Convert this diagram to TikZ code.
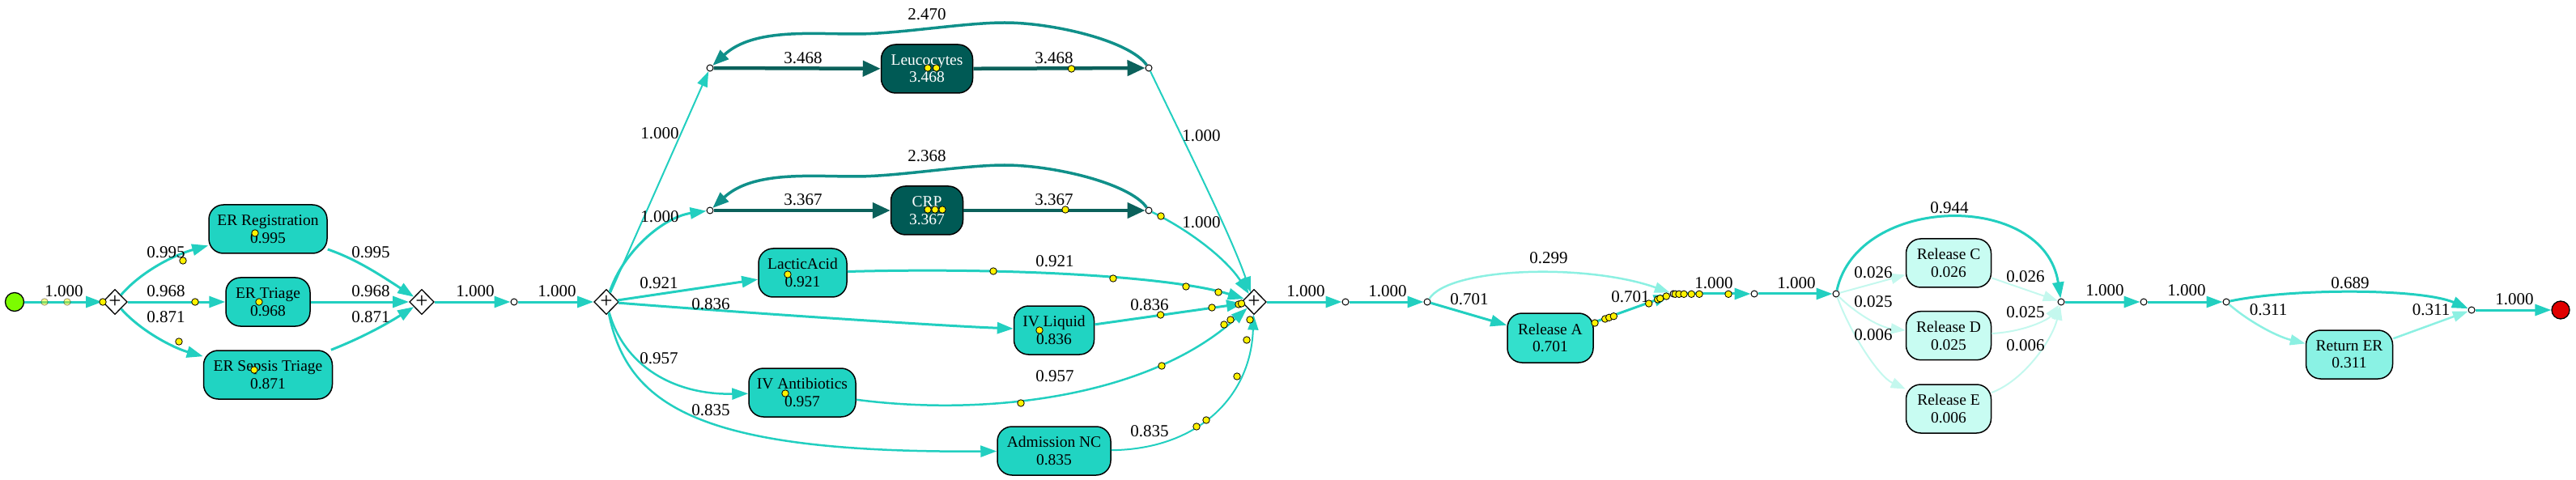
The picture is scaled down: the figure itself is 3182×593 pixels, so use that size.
\documentclass[tikz,border=0pt]{standalone}
\usepackage{fontspec}
\setmainfont{Liberation Serif}
\usetikzlibrary{shapes.geometric,arrows.meta}
\definecolor{cmain}{HTML}{22CFC0}
\definecolor{fmain}{HTML}{20D4C2}
\definecolor{fA}{HTML}{33E0CC}
\definecolor{fret}{HTML}{8AF2E4}
\definecolor{fpale}{HTML}{C8FCF2}
\definecolor{fdark}{HTML}{005A55}
\definecolor{cdark}{HTML}{0B615B}
\definecolor{cloop}{HTML}{10908A}
\definecolor{clight}{HTML}{8CF0E2}
\definecolor{cpale}{HTML}{C4F8EE}
\definecolor{fstart}{HTML}{7CFC00}
\definecolor{fend}{HTML}{E00000}
\newcommand\nodefnt{\fontsize{19.5}{21.5}\selectfont}
\newcommand\lblfnt{\fontsize{21}{24}\selectfont}
\begin{document}
\begin{tikzpicture}[x=1pt,y=-1pt,
  act/.style={rectangle,rounded corners=18pt,draw=black,line width=1.5pt,minimum height=60pt,align=center,font=\nodefnt,inner sep=2pt,fill=fmain},
  gw/.style={diamond,draw=black,fill=white,line width=1.3pt,minimum width=27pt,minimum height=31pt,inner sep=0pt,font=\fontsize{27}{27}\selectfont},
  pt/.style={circle,draw=black,fill=white,line width=1pt,minimum size=8pt,inner sep=0pt},
  tok/.style={circle,draw=black,fill=yellow,line width=0.8pt,minimum size=8.5pt,inner sep=0pt},
  ftok/.style={tok,draw opacity=0.4,fill opacity=0.45},
  lbl/.style={font=\lblfnt,inner sep=0pt},
  e/.style={draw=cmain,line width=3pt,-{Triangle[length=20pt,width=14pt]}},
  ethin/.style={draw=cmain,line width=2pt,-{Triangle[length=19pt,width=13pt]}},
  edark/.style={draw=cdark,line width=4.5pt,-{Triangle[length=22pt,width=19pt]}},
  eloop/.style={draw=cloop,line width=3.5pt,-{Triangle[length=20pt,width=15pt]}},
  elight/.style={draw=clight,line width=2.5pt,-{Triangle[length=19pt,width=13pt]}},
  epale/.style={draw=cpale,line width=2pt,-{Triangle[length=18pt,width=13pt]}}
]
\useasboundingbox (0,0) rectangle (3182,593);
% ---- nodes
\node[circle,draw=black,line width=1.3pt,fill=fstart,minimum size=23pt,inner sep=0pt] (start) at (18,373) {};
\node[gw] (d1) at (142,373) {+};
\node[act,minimum width=146pt] (ereg) at (331,283) {ER Registration\\0.995};
\node[act,minimum width=104pt] (etri) at (331,373) {ER Triage\\0.968};
\node[act,minimum width=159pt] (esep) at (331,463) {ER Sepsis Triage\\0.871};
\node[gw] (d2) at (521,373) {+};
\node[pt] (p1) at (635,373) {};
\node[gw] (d3) at (749,373) {+};
\node[pt] (pl1) at (877,84) {};
\node[pt] (pl2) at (1419,84) {};
\node[pt] (pc1) at (877,260) {};
\node[pt] (pc2) at (1419,260) {};
\node[act,fill=fdark,text=white,minimum width=113pt] (leu) at (1145,85) {Leucocytes\\3.468};
\node[act,fill=fdark,text=white,minimum width=89pt] (crp) at (1145,260) {CRP\\3.367};
\node[act,minimum width=109pt] (lac) at (991.5,337) {LacticAcid\\0.921};
\node[act,minimum width=99pt] (ivl) at (1302,408) {IV Liquid\\0.836};
\node[act,minimum width=132pt] (iva) at (991,485) {IV Antibiotics\\0.957};
\node[act,minimum width=140pt] (adm) at (1302,557) {Admission NC\\0.835};
\node[gw] (d4) at (1549,373) {+};
\node[pt] (p2) at (1662,373) {};
\node[pt] (p3) at (1763,373) {};
\node[act,fill=fA,minimum width=106pt,minimum height=61pt] (rela) at (1915,417.5) {Release A\\0.701};
\node[pt] (m1) at (2067,363) {};
\node[pt] (m2) at (2167,363) {};
\node[pt] (m3) at (2268,363) {};
\node[act,fill=fpale,minimum width=105pt] (relc) at (2407,325) {Release C\\0.026};
\node[act,fill=fpale,minimum width=105pt] (reld) at (2407,414.7) {Release D\\0.025};
\node[act,fill=fpale,minimum width=105pt] (rele) at (2407,505) {Release E\\0.006};
\node[pt] (j1) at (2546,373) {};
\node[pt] (p4) at (2648,373) {};
\node[pt] (p5) at (2750,373) {};
\node[act,fill=fret,minimum width=107pt] (ret) at (2902,438) {Return ER\\0.311};
\node[pt] (f1) at (3053,383) {};
\node[circle,draw=black,line width=1.3pt,fill=fend,minimum size=22pt,inner sep=0pt] (end) at (3163,383) {};
% ---- edges
\draw[e] (start) -- (d1);
\draw[e] (d1) .. controls (175,335) and (215,315) .. (ereg);
\draw[e] (d1) -- (etri);
\draw[e] (d1) .. controls (175,410) and (215,430) .. (esep);
\draw[e] (ereg) .. controls (440,320) and (470,340) .. (d2);
\draw[e] (etri) -- (d2);
\draw[e] (esep) .. controls (440,420) and (470,405) .. (d2);
\draw[e] (d2) -- (p1);
\draw[e] (p1) -- (d3);
\draw[ethin] (d3) -- (pl1);
\draw[e] (d3) .. controls (770,310) and (820,268) .. (pc1);
\draw[edark] (pl1) -- (leu);
\draw[edark] (leu) -- (pl2);
\draw[edark] (pc1) -- (crp);
\draw[edark] (crp) -- (pc2);
\draw[eloop] (pl2) .. controls (1395,50) and (1300,28) .. (1241,28) .. controls (1190,28) and (1110,42) .. (1057,42) .. controls (1000,42) and (930,35) .. (pl1);
\draw[eloop] (pc2) .. controls (1395,226) and (1300,204) .. (1241,204) .. controls (1190,204) and (1110,218) .. (1057,218) .. controls (1000,218) and (930,211) .. (pc1);
\draw[ethin] (pl2) .. controls (1470,190) and (1520,290) .. (d4);
\draw[e,line width=2.5pt] (pc2) .. controls (1470,285) and (1515,320) .. (d4);
\draw[e] (d3) -- (lac);
\draw[e] (d3) .. controls (900,385) and (1150,402) .. (ivl);
\draw[e,line width=2.5pt] (d3) .. controls (770,450) and (830,488) .. (iva);
\draw[e,line width=2.5pt] (d3) .. controls (775,500) and (860,560) .. (adm);
\draw[e] (lac) .. controls (1250,330) and (1450,342) .. (d4);
\draw[e] (ivl) -- (d4);
\draw[e,line width=2.5pt] (iva) .. controls (1220,515) and (1420,490) .. (d4);
\draw[ethin] (adm) .. controls (1480,555) and (1545,490) .. (d4);
\draw[e] (d4) -- (p2);
\draw[e] (p2) -- (p3);
\draw[e] (p3) -- (rela);
\draw[elight] (p3) .. controls (1790,330) and (1960,325) .. (m1);
\draw[e] (rela) -- (m1);
\draw[e] (m1) -- (m2);
\draw[e] (m2) -- (m3);
\draw[e] (m3) .. controls (2295,240) and (2525,235) .. (j1);
\draw[epale] (m3) -- (relc);
\draw[epale] (m3) .. controls (2290,385) and (2320,404) .. (reld);
\draw[epale] (m3) .. controls (2285,410) and (2320,465) .. (rele);
\draw[epale] (relc) -- (j1);
\draw[epale] (reld) .. controls (2500,410) and (2530,395) .. (j1);
\draw[epale] (rele) .. controls (2500,470) and (2535,420) .. (j1);
\draw[e] (j1) -- (p4);
\draw[e] (p4) -- (p5);
\draw[e] (p5) .. controls (2830,356) and (2990,356) .. (f1);
\draw[elight] (p5) .. controls (2775,395) and (2810,415) .. (ret);
\draw[elight] (ret) -- (f1);
\draw[e] (f1) -- (end);
% ---- labels
\node[lbl] (l01) at (79,360) {1.000};
\node[lbl] (l02) at (205,312) {0.995};
\node[lbl] (l03) at (205,360) {0.968};
\node[lbl] (l04) at (205,392) {0.871};
\node[lbl] (l05) at (458,312) {0.995};
\node[lbl] (l06) at (458,360) {0.968};
\node[lbl] (l07) at (458,392) {0.871};
\node[lbl] (l08) at (587,360) {1.000};
\node[lbl] (l09) at (688,360) {1.000};
\node[lbl] (l10) at (815,165) {1.000};
\node[lbl] (l11) at (815,268) {1.000};
\node[lbl] (l12) at (992,72) {3.468};
\node[lbl] (l13) at (1302,72) {3.468};
\node[lbl] (l14) at (1145,18) {2.470};
\node[lbl] (l15) at (992,247) {3.367};
\node[lbl] (l16) at (1302,247) {3.367};
\node[lbl] (l17) at (1145,193) {2.368};
\node[lbl] (l18) at (1484,168) {1.000};
\node[lbl] (l19) at (1484,275) {1.000};
\node[lbl] (l20) at (814,350) {0.921};
\node[lbl] (l21) at (878,376) {0.836};
\node[lbl] (l22) at (814,443) {0.957};
\node[lbl] (l23) at (878,507) {0.835};
\node[lbl] (l24) at (1303,323) {0.921};
\node[lbl] (l25) at (1420,377) {0.836};
\node[lbl] (l26) at (1303,465) {0.957};
\node[lbl] (l27) at (1420,533) {0.835};
\node[lbl] (l28) at (1613,360) {1.000};
\node[lbl] (l29) at (1714,360) {1.000};
\node[lbl] (l30) at (1815,370) {0.701};
\node[lbl] (l31) at (1913,319) {0.299};
\node[lbl] (l32) at (2014,367) {0.701};
\node[lbl] (l33) at (2117,350) {1.000};
\node[lbl] (l34) at (2219,350) {1.000};
\node[lbl] (l35) at (2408,257) {0.944};
\node[lbl] (l36) at (2314,337) {0.026};
\node[lbl] (l37) at (2314,373) {0.025};
\node[lbl] (l38) at (2314,414) {0.006};
\node[lbl] (l39) at (2502,342) {0.026};
\node[lbl] (l40) at (2502,386) {0.025};
\node[lbl] (l41) at (2502,427) {0.006};
\node[lbl] (l42) at (2600,359) {1.000};
\node[lbl] (l43) at (2701,359) {1.000};
\node[lbl] (l44) at (2903,350) {0.689};
\node[lbl] (l45) at (2802,383) {0.311};
\node[lbl] (l46) at (3003,383) {0.311};
\node[lbl] (l47) at (3106,370) {1.000};
% ---- tokens
\node[ftok] (t01) at (55,373) {};
\node[ftok] (t02) at (83,373) {};
\foreach \i/\x/\y in {3/127/373,4/226/322,5/241/373,6/221/422,7/315/288,8/320/373,9/314/457,
  10/1146/84,11/1156.6/84,12/1323.5/85,13/1146/259,14/1155/259,15/1164/259,16/1316/259,17/1434/267,
  18/973/339,19/1284/408,20/970/486,21/1227/335,22/1375/344,23/1465/354,24/1505/361,25/1497/380,
  26/1433.6/389,27/1512/401,28/1520/395,29/1530/376,30/1533.5/375,31/1544/395,32/1540/420,
  33/1435/452,34/1528/465,35/1490/519,36/1478/527,37/1261/498,
  38/1970/399,39/1982.7/394,40/1987.7/392.3,41/1993.3/390.7,42/2036.7/375,43/2047.7/370,
  44/2050.7/368.7,45/2058.3/366,46/2069.3/363.3,47/2074/363.3,48/2080/363.3,49/2089.3/363.3,
  50/2099/363.3,51/2135/363.3}
  \node[tok] (t\i) at (\x,\y) {};
\end{tikzpicture}
\end{document}
